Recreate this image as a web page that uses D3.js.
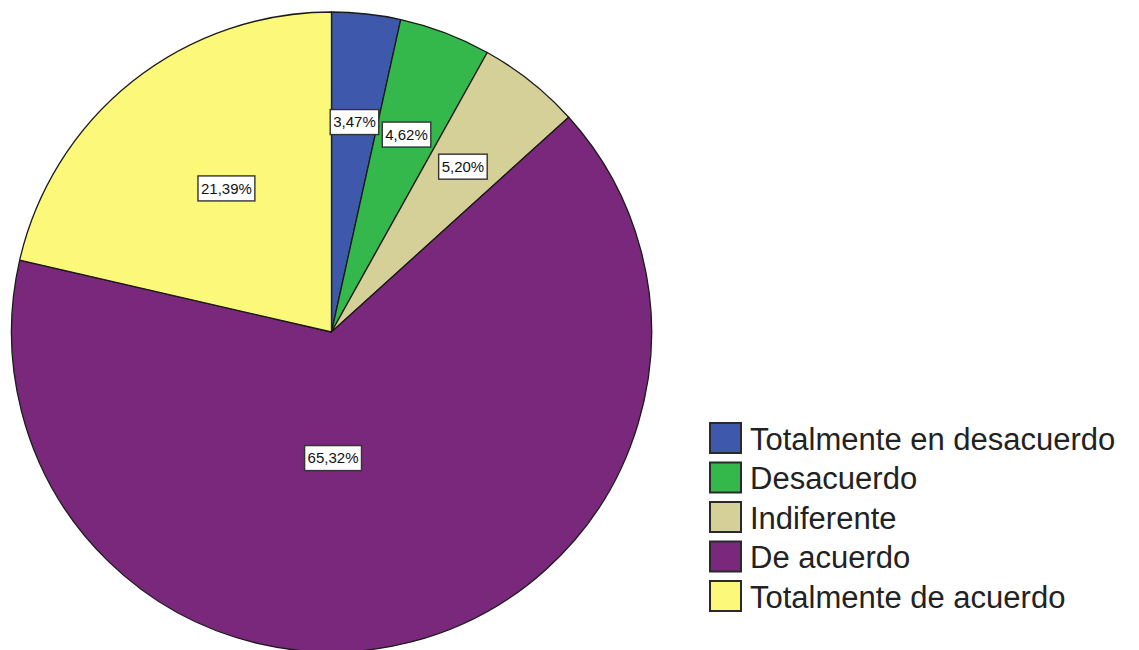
<!DOCTYPE html>
<html>
<head>
<meta charset="utf-8">
<script src="https://cdn.jsdelivr.net/npm/d3@7"></script>
<style>
  html, body { margin: 0; padding: 0; background: #fff; }
  svg { display: block; }
</style>
</head>
<body>
<svg id="chart" width="1139" height="650"></svg>
<script>
// data
const categories = [
  "Totalmente en desacuerdo",
  "Desacuerdo",
  "Indiferente",
  "De acuerdo",
  "Totalmente de acuerdo",
];
const percents = [3.47, 4.62, 5.2, 65.32, 21.39];
const sliceColors = ["#3e58ac", "#35b84b", "#d5cf98", "#7a287c", "#fbf87a"];

// layout
const width = 1139;
const height = 650;
const cx = 331.5;
const cy = 332;
const radius = 320;
// SPSS puts a couple of labels off the slice centroid: [angleDeg, fraction of radius]
const labelOverrides = {
  "De acuerdo": [179.3, 0.394],
  "Totalmente de acuerdo": [323.8, 0.556],
};

const svg = d3.select("#chart");

const pie = d3.pie().sort(null).value((d) => d.value);
const arcs = pie(categories.map((c, i) => ({ name: c, value: percents[i] })));
const arc = d3.arc().innerRadius(0).outerRadius(radius);
const labelArc = d3.arc().innerRadius(radius * 0.66).outerRadius(radius * 0.66);
const color = d3.scaleOrdinal().domain(categories).range(sliceColors);
const fmt = (v) => d3.format(".2f")(v).replace(".", ",") + "%";

const g = svg.append("g").attr("transform", `translate(${cx},${cy})`);

g.selectAll("path.slice")
  .data(arcs)
  .join("path")
  .attr("class", "slice")
  .attr("d", arc)
  .attr("fill", (d) => color(d.data.name))
  .attr("stroke", "#1a1a1a")
  .attr("stroke-width", 1.3)
  .attr("stroke-linejoin", "round");

const labelPos = (d) => {
  const o = labelOverrides[d.data.name];
  if (!o) return labelArc.centroid(d);
  const a = (o[0] * Math.PI) / 180;
  return [Math.sin(a) * radius * o[1], -Math.cos(a) * radius * o[1]];
};

const labels = g
  .selectAll("g.lbl")
  .data(arcs)
  .join("g")
  .attr("class", "lbl")
  .attr("transform", (d) => `translate(${labelPos(d)})`);

labels
  .append("text")
  .attr("text-anchor", "middle")
  .attr("dy", "0.36em")
  .attr("font-family", "Liberation Sans, Arial, sans-serif")
  .attr("font-size", 15)
  .attr("fill", "#111")
  .text((d) => fmt(d.data.value));

labels.each(function () {
  const grp = d3.select(this);
  const bb = grp.select("text").node().getBBox();
  const padX = 3;
  grp
    .insert("rect", "text")
    .attr("x", bb.x - padX)
    .attr("y", -12.5)
    .attr("width", bb.width + padX * 2)
    .attr("height", 25)
    .attr("fill", "#fff")
    .attr("stroke", "#333")
    .attr("stroke-width", 1.4);
});

// legend
const legendX = 709;
const legendY = 422;
const rowStep = 39.5;
const sw = 31;

const legend = svg
  .append("g")
  .attr("transform", `translate(${legendX},${legendY})`);

const rows = legend
  .selectAll("g.row")
  .data(categories)
  .join("g")
  .attr("class", "row")
  .attr("transform", (d, i) => `translate(0,${i * rowStep})`);

rows
  .append("rect")
  .attr("x", 1)
  .attr("y", 1)
  .attr("width", sw)
  .attr("height", sw - 1)
  .attr("fill", (d) => color(d))
  .attr("stroke", "#2a2a2a")
  .attr("stroke-width", 2);

rows
  .append("text")
  .attr("x", 41)
  .attr("y", sw / 2 + 1)
  .attr("dy", "0.36em")
  .attr("font-family", "Liberation Sans, Arial, sans-serif")
  .attr("font-size", 31)
  .attr("fill", "#222")
  .text((d) => d);
</script>
</body>
</html>
